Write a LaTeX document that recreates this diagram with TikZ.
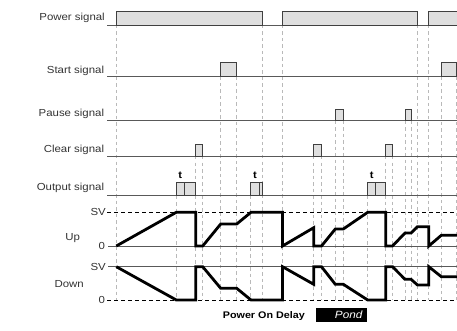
\documentclass[tikz,border=0pt]{standalone}
\usepackage{fontspec}
\setsansfont{Liberation Sans}[FakeStretch=1.12]

\begin{document}
\begin{tikzpicture}[
  x=1pt, y=-1pt, font=\sffamily,
  lbl/.style={anchor=base east, inner sep=0pt, text=black!80,
    font=\sffamily\fontsize{10.2}{12}\selectfont},
  axis/.style={lbl, anchor=base},
  tmark/.style={anchor=base, inner sep=0pt, font=\sffamily\bfseries\fontsize{10}{12}\selectfont},
  base/.style={draw=black!65, line width=0.8pt},
  pulse/.style={draw=black!75, fill=gray!25, line width=0.8pt},
  guide/.style={draw=gray!55, line width=0.5pt, dash pattern=on 3.5pt off 3pt},
  level/.style={draw=black, line width=0.8pt, dash pattern=on 4pt off 3pt},
  zero/.style={draw=black!65, line width=0.8pt},
  count/.style={draw=black, line width=2.8pt, line join=miter},
]
  \useasboundingbox (0,0) rectangle (457,331);

  % Guides
  \foreach \gx/\gy in {116.3/25, 176.3/195.7, 195.5/156, 202.7/156, 220.7/76.3,
      236.7/76.3, 250.7/195.7, 262.7/25, 282.5/25, 313.7/156, 321.5/156,
      335.7/120.7, 343.3/120.7, 367.7/195.7, 385.3/156, 392.5/156, 405/120.7,
      411/120.7, 417.7/25, 428.3/25, 441.3/76.3, 456.5/76.3}
    \draw[guide] (\gx,\gy) -- (\gx,300);

  % Labels
  \node[lbl] (lpower) at (105,20.7) {Power signal};
  \node[lbl] (lstart) at (104.3,73.3) {Start signal};
  \node[lbl] (lpause) at (104.3,116.7) {Pause signal};
  \node[lbl] (lclear) at (104.3,152.7) {Clear signal};
  \node[lbl] (loutput) at (104.3,190) {Output signal};
  \node[axis] (lup) at (72.7,240) {Up};
  \node[axis] (ldown) at (69.2,287.3) {Down};
  \node[lbl] (svup) at (106,215.5) {SV};
  \node[lbl] (zeroup) at (105.3,249.5) {0};
  \node[lbl] (svdown) at (106,270) {SV};
  \node[lbl] (zerodown) at (105.3,303.5) {0};

  % Power signal
  \draw[base] (107,25) -- (458,25);
  \draw[pulse] (116.3,25) rectangle (262.7,11.7);
  \draw[pulse] (282.3,25) rectangle (417.7,11.7);
  \draw[pulse] (428.3,25) rectangle (460,11.7);

  % Start signal
  \draw[base] (107,76.3) -- (458,76.3);
  \draw[pulse] (220.7,76.3) rectangle (236.7,62);
  \draw[pulse] (441.3,76.3) rectangle (456.6,62);

  % Pause signal
  \draw[base] (107,120.7) -- (458,120.7);
  \draw[pulse] (335.7,120.7) rectangle (343.3,109.3);
  \draw[pulse] (405,120.7) rectangle (411.3,109.3);

  % Clear signal
  \draw[base] (107,156) -- (458,156);
  \draw[pulse] (195.3,156) rectangle (202.7,144);
  \draw[pulse] (313.7,156) rectangle (321.3,144);
  \draw[pulse] (385,156) rectangle (392.3,144);

  % Output signal
  \draw[base] (107,195.7) -- (458,195.7);
  \draw[pulse] (176.3,195.7) rectangle (195.7,182.3);
  \draw[pulse] (184.3,195.7) -- (184.3,182.3);
  \draw[pulse] (250.7,195.7) rectangle (262.7,182.3);
  \draw[pulse] (259.3,195.7) -- (259.3,182.3);
  \draw[pulse] (367.7,195.7) rectangle (385.7,182.3);
  \draw[pulse] (375.7,195.7) -- (375.7,182.3);
  \node[tmark] (t1) at (180.3,178) {t};
  \node[tmark] (t2) at (255,178) {t};
  \node[tmark] (t3) at (371.7,178) {t};

  % Up counter
  \draw[level] (107,212.3) -- (458,212.3);
  \draw[zero] (108,246) -- (458,246);
  \draw[count] (116.3,246) -- (176.3,212.3) -- (195.7,212.3) -- (195.7,246)
    -- (202.7,246) -- (220.7,224) -- (236.7,224) -- (251,212.3) -- (282.5,212.3)
    -- (282.5,246) -- (313.7,227.7) -- (313.7,246) -- (321.5,246) -- (335.3,229)
    -- (343.3,229) -- (367.7,212.3) -- (385.7,212.3) -- (385.7,246) -- (392.5,246)
    -- (405,233) -- (411,233) -- (417.5,226.7) -- (428.8,226.7) -- (428.8,246)
    -- (441.3,235.3) -- (460,235.3);

  % Down counter
  \draw[zero] (108,266.7) -- (458,266.7);
  \draw[level] (107,300) -- (458,300);
  \draw[count] (116.3,266.7) -- (176.3,300) -- (195.7,300) -- (195.7,266.7)
    -- (202.7,266.7) -- (220.7,288.3) -- (236.7,288.3) -- (251,300) -- (282.5,300)
    -- (282.5,266.7) -- (313.7,284.3) -- (313.7,266.7) -- (321.5,266.7) -- (335.3,284.3)
    -- (343.3,284.3) -- (367.7,300) -- (385.7,300) -- (385.7,266.7) -- (392.5,266.7)
    -- (405,279.3) -- (411,279.3) -- (417.5,285) -- (428.8,285) -- (428.8,266.7)
    -- (441.3,276.7) -- (460,276.7);

  % Mode
  \node[anchor=base west, inner sep=0pt, font=\sffamily\bfseries\fontsize{9.6}{12}\selectfont]
    (mode) at (222.7,318.3) {Power On Delay};
  \node[fill=black, minimum width=50.7pt, minimum height=13.4pt, inner sep=0pt]
    (disp) at (341.3,315) {};
  \node[anchor=base, inner sep=0pt, text=white, font=\sffamily\itshape\fontsize{10.5}{12}\selectfont]
    (dispcode) at (348.7,318.3) {Pond};

\end{tikzpicture}
\end{document}
